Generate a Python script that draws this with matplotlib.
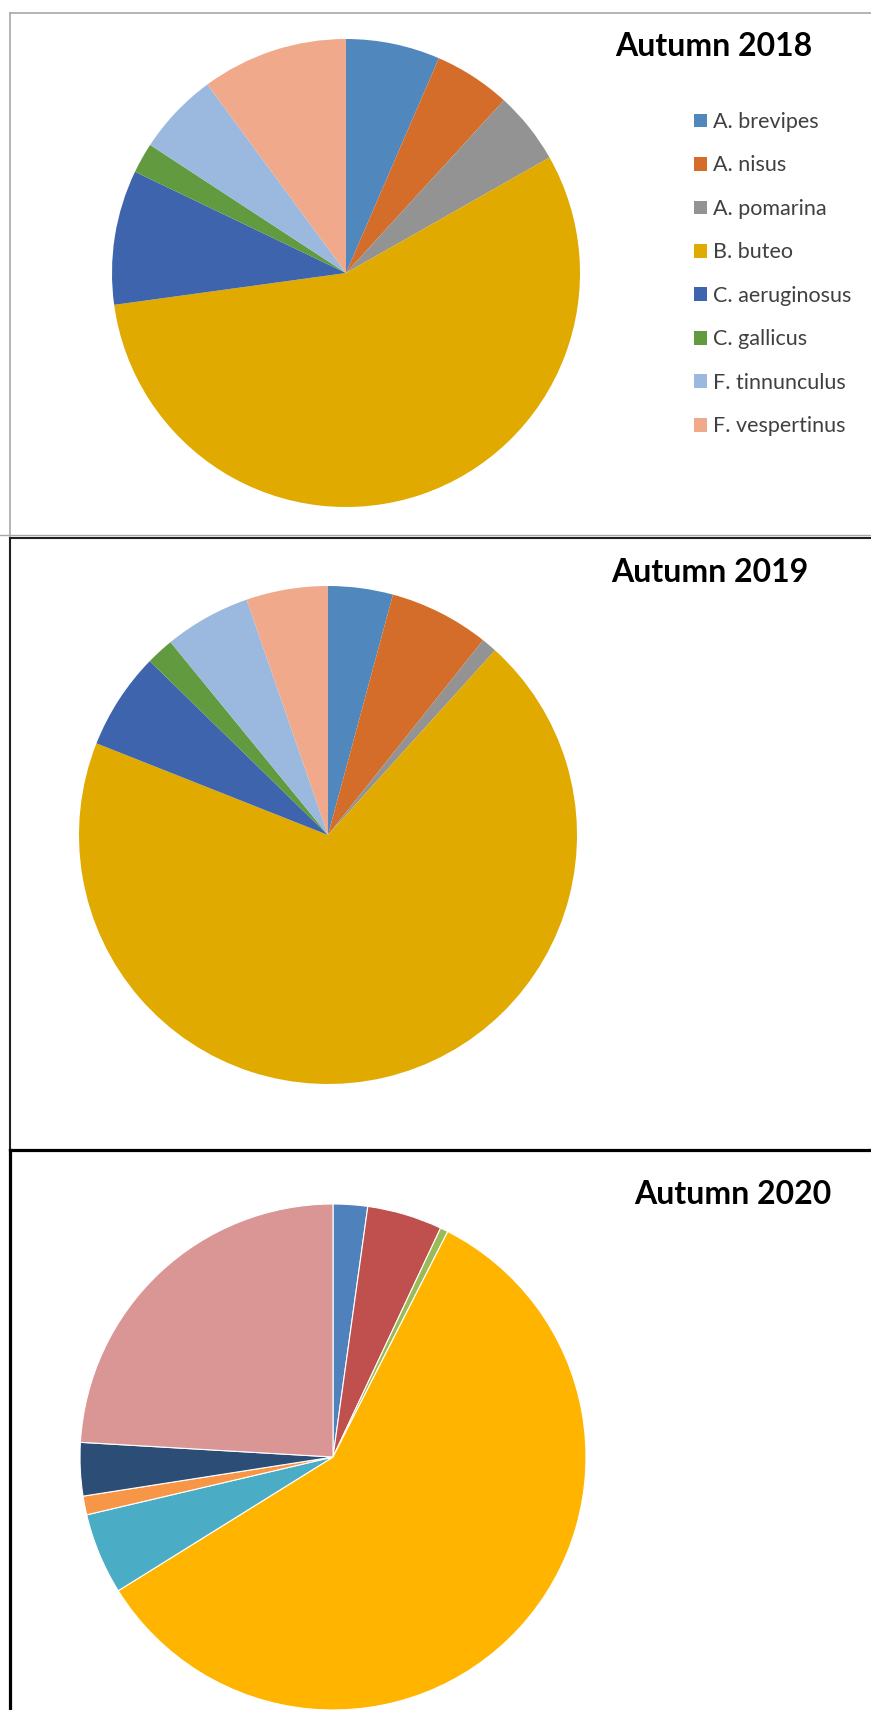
import matplotlib
matplotlib.use('Agg')
import matplotlib.pyplot as plt
from matplotlib.lines import Line2D

W, H = 871, 1710

species = ['A. brevipes', 'A. nisus', 'A. pomarina', 'B. buteo',
           'C. aeruginosus', 'C. gallicus', 'F. tinnunculus', 'F. vespertinus']

# shares (%)
share_2018 = [6.5, 5.3, 5.0, 56.1, 9.3, 2.1, 5.7, 10.1]
share_2019 = [4.2, 6.5, 1.0, 69.3, 6.3, 1.8, 5.6, 5.3]
share_2020 = [2.2, 4.8, 0.5, 58.7, 5.2, 1.2, 3.4, 24.1]

colors_new = ['#5088BE', '#D46D29', '#939393', '#E0AA00',
              '#3D64AD', '#629A3F', '#9BB9DF', '#F0A98B']
colors_old = ['#4F81BD', '#C0504D', '#9BBB59', '#FFB500',
              '#4BACC6', '#F79646', '#2C4D75', '#D99694']

plt.rcParams['font.family'] = ['Lato', 'DejaVu Sans']

fig = plt.figure(figsize=(W / 100, H / 100), dpi=100)


def fx(x):
    return x / W


def fy(y):
    return 1 - y / H


def frame(left, top, bottom, color, lw):
    # left edge and top edge of a chart box (right side runs off the image)
    fig.add_artist(Line2D([fx(left), fx(left)], [fy(top), fy(bottom)], color=color, lw=lw))
    fig.add_artist(Line2D([fx(left), fx(W + 5)], [fy(top), fy(top)], color=color, lw=lw))


def pie_panel(cx, cy, r, values, colors, title, tx, ty, edge=None):
    ax = fig.add_axes([fx(cx - r), fy(cy + r), 2 * r / W, 2 * r / H])
    wp = {'linewidth': 0} if edge is None else {'linewidth': 0.8, 'edgecolor': edge}
    wedges, _ = ax.pie(values, colors=colors, startangle=90, counterclock=False,
                       radius=1, wedgeprops=wp)
    ax.set_xlim(-1, 1)
    ax.set_ylim(-1, 1)
    ax.set_aspect('equal')
    ax.axis('off')
    fig.text(fx(tx), fy(ty), title, ha='center', va='center',
             fontsize=23, fontweight='bold', color='black')
    return wedges


# panel borders
frame(10, 13, 536, '#A8A8A8', 1.2)
fig.add_artist(Line2D([0, 1], [fy(535), fy(535)], color='#A8A8A8', lw=1.0))
frame(10, 537.5, 1149, '#202020', 1.5)
frame(9.5, 1149.5, H + 5, 'black', 2.3)

w18 = pie_panel(346, 273, 234, share_2018, colors_new, 'Autumn 2018', 714, 47)
pie_panel(328, 835, 249, share_2019, colors_new, 'Autumn 2019', 710, 572)
pie_panel(333, 1457, 253, share_2020, colors_old, 'Autumn 2020', 733, 1195, edge='white')

fig.legend(w18, species, loc='upper left', bbox_to_anchor=(fx(694), fy(112)),
           frameon=False, fontsize=15.5, labelcolor='#404040',
           handlelength=0.6, handleheight=0.6, handletextpad=0.3,
           labelspacing=1.09, borderpad=0, borderaxespad=0)

fig.savefig('out.png', dpi=100)
